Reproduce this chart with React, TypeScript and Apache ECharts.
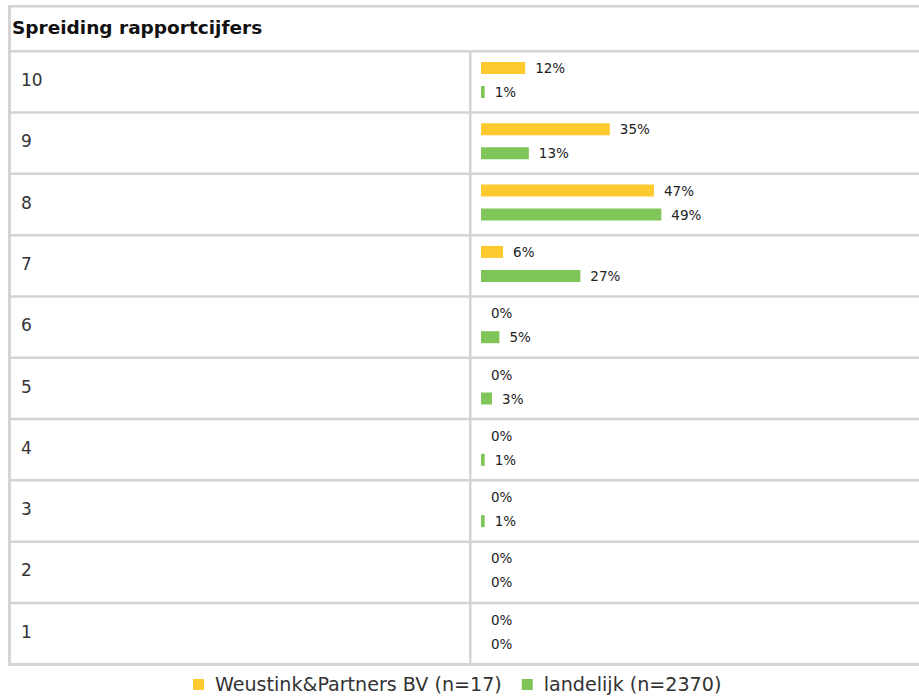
import React, { useEffect, useRef } from "react";
import * as echarts from "echarts";

const categories = ["10", "9", "8", "7", "6", "5", "4", "3", "2", "1"];
const weustink = [12, 35, 47, 6, 0, 0, 0, 0, 0, 0];
const landelijk = [1, 13, 49, 27, 5, 3, 1, 1, 0, 0];
const seriesNames = ["Weustink&Partners BV (n=17)", "landelijk (n=2370)"];
const title = "Spreiding rapportcijfers";

const FONT = "Verdana, 'DejaVu Sans', sans-serif";
const LINE = "#d4d4d4";

export default function App() {
  const ref = useRef<HTMLDivElement>(null);
  useEffect(() => {
    if (!ref.current) return;
    const chart = echarts.init(ref.current, undefined, { renderer: "svg" });
    const rowTop = 50;
    const rowH = 61.3;
    const graphics: any[] = [];
    graphics.push({ type: "rect", shape: { x: 8, y: 5, width: 3, height: 661 }, style: { fill: LINE } });
    graphics.push({ type: "rect", shape: { x: 8, y: 5, width: 911, height: 2.5 }, style: { fill: LINE } });
    for (let k = 0; k <= categories.length; k++) {
      const y = rowTop + rowH * k;
      graphics.push({ type: "rect", shape: { x: 8, y, width: 911, height: k === categories.length ? 3 : 2.5 }, style: { fill: LINE } });
    }
    graphics.push({ type: "rect", shape: { x: 469, y: 52, width: 2.5, height: 612 }, style: { fill: LINE } });
    graphics.push({
      type: "text",
      x: 12,
      y: 27,
      style: { text: title, font: `bold 18.5px ${FONT}`, fill: "#111", textVerticalAlign: "middle" },
    });

    const labelStyle = { show: true, position: "right", distance: 10, formatter: "{c}%", fontSize: 13.5, color: "#222", fontFamily: FONT };

    chart.setOption({
      animation: false,
      graphic: graphics,
      legend: {
        data: seriesNames,
        left: 188,
        top: 670,
        itemWidth: 11,
        itemHeight: 11,
        itemGap: 20,
        icon: "rect",
        textStyle: { fontSize: 19.1, color: "#333", fontFamily: FONT, padding: [0, 0, 0, 6] },
      },
      grid: { left: 481, top: 49.35, width: 368, height: 613 },
      xAxis: { type: "value", min: 0, max: 100, show: false },
      yAxis: {
        type: "category",
        data: categories,
        inverse: true,
        axisLine: { show: false },
        axisTick: { show: false },
        splitLine: { show: false },
        axisLabel: { margin: 460, align: "left", fontSize: 17, color: "#333", fontFamily: FONT },
      },
      series: [
        {
          name: seriesNames[0],
          type: "bar",
          data: weustink,
          barWidth: 12,
          barGap: "100%",
          itemStyle: { color: "#FFCA30" },
          label: labelStyle,
        },
        {
          name: seriesNames[1],
          type: "bar",
          data: landelijk,
          barWidth: 12,
          barGap: "100%",
          itemStyle: { color: "#80C55A" },
          label: labelStyle,
        },
      ],
    });
    return () => chart.dispose();
  }, []);
  return <div ref={ref} style={{ position: "absolute", left: 0, top: 0, width: 919, height: 698 }} />;
}
